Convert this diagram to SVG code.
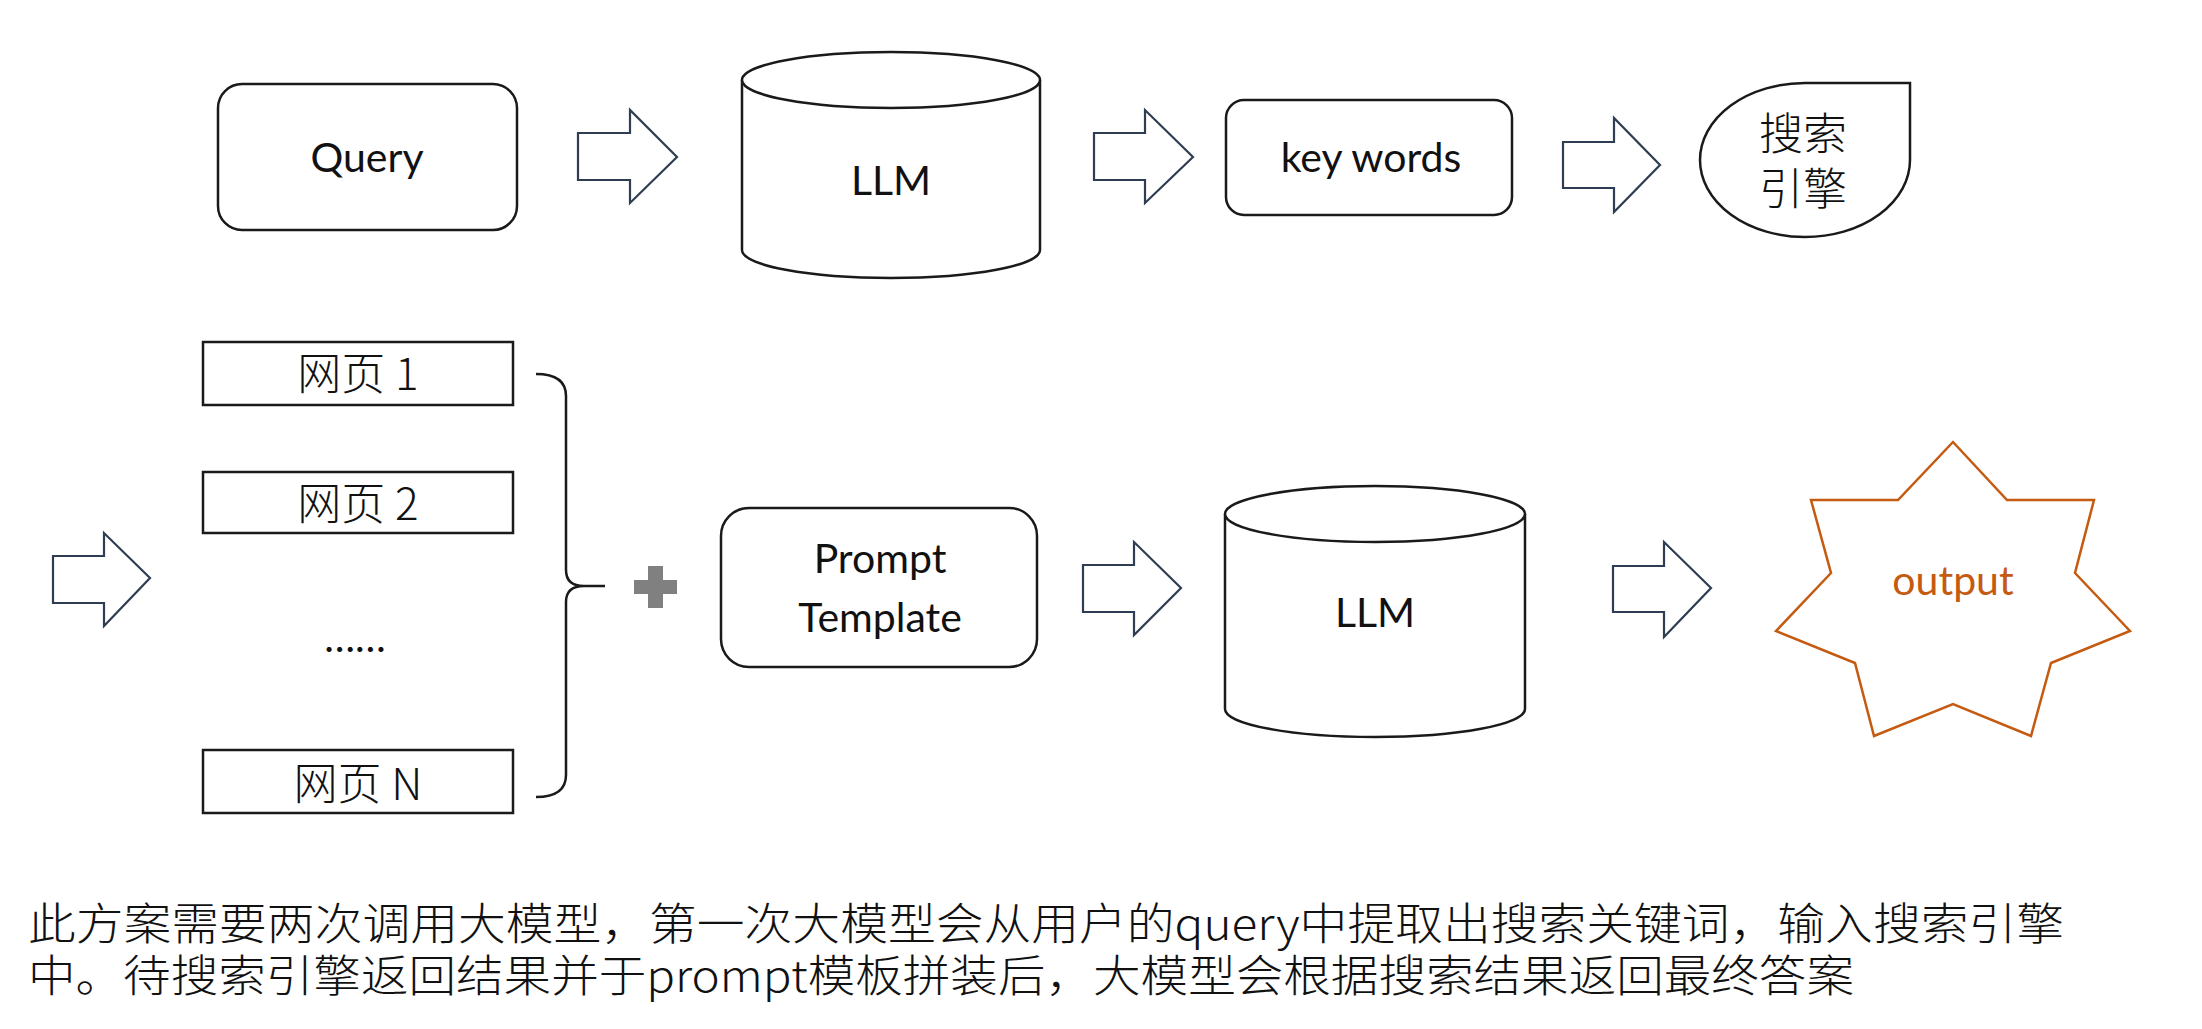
<svg xmlns="http://www.w3.org/2000/svg" width="2202" height="1029" viewBox="0 0 2202 1029">
<style>
.box{fill:#fff;stroke:#1a1a1a;stroke-width:2.5}
.arr{fill:#fff;stroke:#2e3d52;stroke-width:2.2;stroke-linejoin:miter}
.lat{font-family:Lato,"Open Sans","Liberation Sans",sans-serif;font-size:41px;fill:#111;text-anchor:middle}
.cjk{font-family:"Noto Sans CJK SC","Liberation Sans",sans-serif;font-size:44px;font-weight:300;fill:#111;text-anchor:middle}
.note{font-family:"Noto Sans CJK SC","Liberation Sans",sans-serif;font-size:44px;font-weight:300;fill:#111}
</style>
<rect width="2202" height="1029" fill="#fff"/>
<g id="connectors">
<polygon class="arr" points="578,133 630,133 630,110 677,157 630,203 630,180 578,180"/>
<polygon class="arr" points="1094,133 1145,133 1145,110 1193,157 1145,203 1145,180 1094,180"/>
<polygon class="arr" points="1563,142 1614,142 1614,118 1660,165 1614,212 1614,188 1563,188"/>
<polygon class="arr" points="53,556 104,556 104,533 150,578 104,626 104,603 53,603"/>
<polygon class="arr" points="1083,565 1134,565 1134,542 1181,588 1134,635 1134,612 1083,612"/>
<polygon class="arr" points="1613,566 1664,566 1664,542 1711,588 1664,637 1664,612 1613,612"/>
<path d="M536,374 Q566,374 566,396 L566,570 Q566,586 584,586 L605,586 M584,586 Q566,586 566,602 L566,775 Q566,797 536,797" fill="none" stroke="#1a1a1a" stroke-width="2.5"/>
<g id="plus" fill="#808080"><rect x="634" y="580" width="43" height="14"/><rect x="648" y="566" width="15" height="42"/></g>
</g>
<g id="query"><rect class="box" x="218" y="84" width="299" height="146" rx="24"/><text class="lat" x="367" y="172" font-size="43">Query</text></g>
<g id="llm1"><path class="box" d="M742,80 L742,250 A149,28 0 0 0 1040,250 L1040,80"/><ellipse class="box" cx="891" cy="80" rx="149" ry="28"/><text class="lat" x="891" y="195">LLM</text></g>
<g id="keywords"><rect class="box" x="1226" y="100" width="286" height="115" rx="18"/><text class="lat" x="1371" y="172" font-size="42">key words</text></g>
<g id="search"><path class="box" d="M1805,83 L1910,83 L1910,160 A105,77 0 1 1 1805,83 Z" stroke-width="2"/><text class="cjk" x="1803" y="150" font-size="45">搜索</text><text class="cjk" x="1803" y="205" font-size="45">引擎</text></g>
<g id="page1"><rect class="box" x="203" y="342" width="310" height="63"/><text class="cjk" x="358" y="390">网页 1</text></g>
<g id="page2"><rect class="box" x="203" y="472" width="310" height="61"/><text class="cjk" x="358" y="520">网页 2</text></g>
<g id="dots"><text class="lat" x="355" y="652" font-size="34">……</text></g>
<g id="pageN"><rect class="box" x="203" y="750" width="310" height="63"/><text class="cjk" x="358" y="800">网页 N</text></g>
<g id="prompt"><rect class="box" x="721" y="508" width="316" height="159" rx="28"/><text class="lat" x="880" y="573" font-size="43">Prompt</text><text class="lat" x="880" y="632" font-size="43">Template</text></g>
<g id="llm2"><path class="box" d="M1225,514 L1225,709 A150,28 0 0 0 1525,709 L1525,514"/><ellipse class="box" cx="1375" cy="514" rx="150" ry="28"/><text class="lat" x="1375" y="627">LLM</text></g>
<g id="output"><polygon points="1953,442 2007,500 2094,500 2075,573 2130,631 2051,663 2031,736 1953,704 1874,736 1855,663 1776,631 1831,573 1811,500 1898,500" fill="#fff" stroke="#c55a11" stroke-width="2.5"/><text class="lat" x="1953" y="595" font-size="43" style="fill:#c55a11">output</text></g>
<g id="note">
<text class="note" x="28" y="940" textLength="2036" lengthAdjust="spacingAndGlyphs">此方案需要两次调用大模型，第一次大模型会从用户的query中提取出搜索关键词，输入搜索引擎</text>
<text class="note" x="28" y="992" textLength="1826" lengthAdjust="spacingAndGlyphs">中。待搜索引擎返回结果并于prompt模板拼装后，大模型会根据搜索结果返回最终答案</text>
</g>
</svg>
